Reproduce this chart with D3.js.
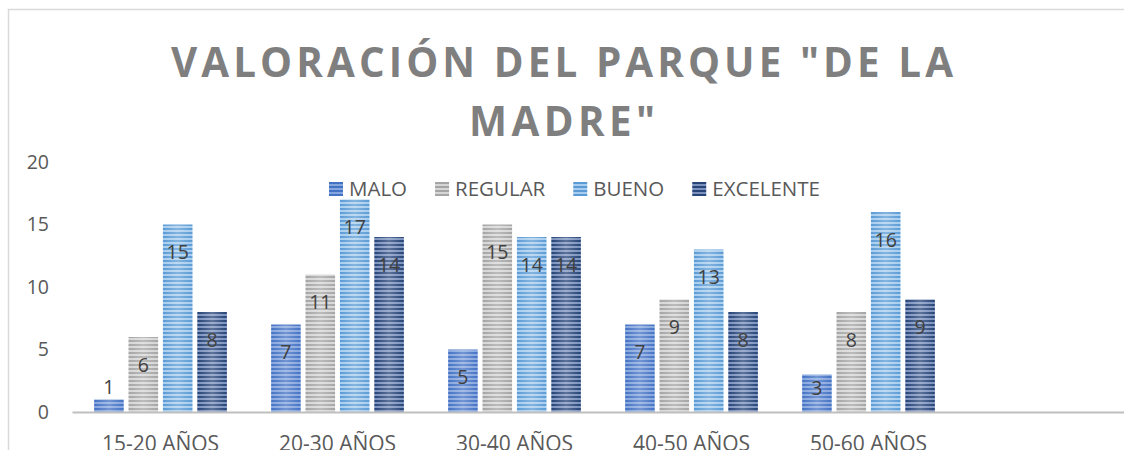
<!DOCTYPE html>
<html>
<head>
<meta charset="utf-8">
<script src="https://cdn.jsdelivr.net/npm/d3@7"></script>
<style>
  html, body { margin: 0; padding: 0; background: #fff; overflow: hidden; }
  svg { display: block; font-family: "Open Sans", sans-serif; }
</style>
</head>
<body>
<svg id="chart" width="1124" height="450"></svg>
<script>
// data
const categories = ["15-20 AÑOS", "20-30 AÑOS", "30-40 AÑOS", "40-50 AÑOS", "50-60 AÑOS", ""];
const seriesNames = ["MALO", "REGULAR", "BUENO", "EXCELENTE"];
const malo = [1, 7, 5, 7, 3];
const regular = [6, 11, 15, 9, 8];
const bueno = [15, 17, 14, 13, 16];
const excelente = [8, 14, 14, 8, 9];
const yTicks = [0, 5, 10, 15, 20];
const titleLines = ['VALORACIÓN DEL PARQUE "DE LA', 'MADRE"'];

const seriesValues = [malo, regular, bueno, excelente];
// dark stripe / light stripe per series
const stripeColors = [
    ["#4472c4", "#86a6de"],
    ["#a5a5a5", "#d6d6d6"],
    ["#5b9bd5", "#a8cdee"],
    ["#264478", "#7c92bd"]
];

const svg = d3.select("svg#chart");

const defs = svg.append("defs");
stripeColors.forEach((c, i) => {
    const p = defs.append("pattern")
        .attr("id", "stripe" + i)
        .attr("patternUnits", "userSpaceOnUse")
        .attr("width", 8).attr("height", 4);
    p.append("rect").attr("width", 8).attr("height", 4).attr("fill", c[1]);
    p.append("rect").attr("width", 8).attr("height", 2).attr("fill", c[0]);
});
const shine = defs.append("linearGradient").attr("id", "shine");
shine.append("stop").attr("offset", "0").attr("stop-color", "#fff").attr("stop-opacity", 0);
shine.append("stop").attr("offset", "0.5").attr("stop-color", "#fff").attr("stop-opacity", 0.25);
shine.append("stop").attr("offset", "1").attr("stop-color", "#fff").attr("stop-opacity", 0);

// chart border (runs past the right / bottom edge)
svg.append("rect")
    .attr("x", 8.5).attr("y", 9.5)
    .attr("width", 1200).attr("height", 500)
    .attr("fill", "none")
    .attr("stroke", "#d9d9d9")
    .attr("stroke-width", 1.5);

// title: bold glyphs with some letter spacing
const titleFits = [782, 186];
const squeeze = 0.96;
svg.append("g")
    .attr("transform", `translate(562,0) scale(${squeeze},1)`)
    .selectAll("text")
    .data(titleLines)
    .join("text")
        .attr("x", 0)
        .attr("y", (d, i) => 77 + i * 59)
        .attr("text-anchor", "middle")
        .attr("font-size", 42)
        .attr("font-weight", "bold")
        .attr("fill", "#7f7f7f")
        .attr("textLength", (d, i) => titleFits[i] / squeeze)
        .attr("lengthAdjust", "spacing")
        .text(d => d);

// scales
const x0 = d3.scaleBand()
    .domain(categories)
    .range([72, 1134])
    .paddingInner(0.25)
    .paddingOuter(0.125);

const x1 = d3.scaleBand()
    .domain(seriesNames)
    .range([0, x0.bandwidth()])
    .paddingInner(0.14);

const y = d3.scaleLinear()
    .domain([0, 20])
    .range([412, 162]);

// y axis labels
const yAxis = svg.append("g")
    .attr("transform", "translate(49,0)")
    .call(d3.axisLeft(y).tickValues(yTicks).tickSize(0).tickPadding(0));
yAxis.select(".domain").remove();
yAxis.selectAll("text")
    .attr("font-family", "Open Sans, sans-serif")
    .attr("font-size", 19.5)
    .attr("fill", "#595959");

// bars
const groups = svg.append("g")
    .selectAll("g")
    .data(categories.filter(c => c !== ""))
    .join("g")
        .attr("transform", d => `translate(${x0(d)},0)`);

const bars = groups.selectAll("g.bar")
    .data((cat, ci) => seriesNames.map((s, si) => ({ series: s, si: si, value: seriesValues[si][ci] })))
    .join("g")
        .attr("class", "bar");

bars.append("rect")
    .attr("x", d => x1(d.series))
    .attr("y", d => y(d.value))
    .attr("width", x1.bandwidth())
    .attr("height", d => y(0) - y(d.value))
    .attr("fill", d => "url(#stripe" + d.si + ")");

bars.append("rect")
    .attr("x", d => x1(d.series))
    .attr("y", d => y(d.value))
    .attr("width", x1.bandwidth())
    .attr("height", d => y(0) - y(d.value))
    .attr("fill", "url(#shine)");

// data labels: inside end, pushed outside when the bar is too short
bars.append("text")
    .attr("x", d => x1(d.series) + x1.bandwidth() / 2)
    .attr("y", d => {
        const top = y(d.value), h = y(0) - top;
        if (h < 20) return top - 12;
        return Math.min(top + 28, y(0) - 24);
    })
    .attr("dy", "0.35em")
    .attr("text-anchor", "middle")
    .attr("font-size", 19.5)
    .attr("fill", "#404040")
    .text(d => d.value);

// x axis
const xAxis = svg.append("g")
    .attr("transform", `translate(0,${y(0)})`)
    .call(d3.axisBottom(x0).tickSize(0).tickSizeOuter(0).tickPadding(0));
xAxis.select(".domain")
    .attr("stroke", "#bfbfbf")
    .attr("stroke-width", 2);
xAxis.selectAll("text")
    .attr("font-family", "Open Sans, sans-serif")
    .attr("font-size", 21)
    .attr("fill", "#595959")
    .attr("dy", null)
    .attr("y", 39);

// legend
const legend = svg.append("g").attr("transform", "translate(329,182)");
let lx = 0;
seriesNames.forEach((name, i) => {
    const item = legend.append("g").attr("transform", `translate(${lx},0)`);
    item.append("rect")
        .attr("width", 14).attr("height", 14)
        .attr("fill", "url(#stripe" + i + ")");
    const t = item.append("text")
        .attr("x", 20).attr("y", 7)
        .attr("dy", "0.35em")
        .attr("font-size", 20.5)
        .attr("fill", "#595959")
        .text(name);
    lx += 20 + t.node().getComputedTextLength() + 28;
});
</script>
</body>
</html>
